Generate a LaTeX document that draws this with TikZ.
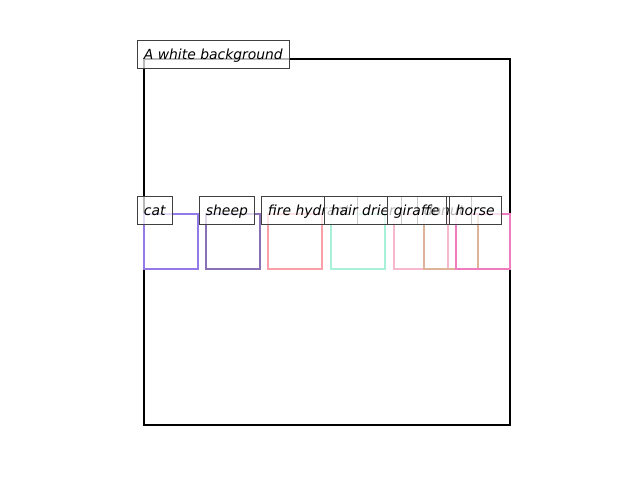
\documentclass[tikz,border=0pt]{standalone}
\usepackage{fontspec}
\setmainfont{DejaVu Sans}
\usepackage{xcolor}
\usetikzlibrary{positioning, calc}
\definecolor{catline}{HTML}{9479E8}
\definecolor{sheepline}{HTML}{8A70B4}
\definecolor{hydrantline}{HTML}{F9A0A8}
\definecolor{drierline}{HTML}{A8F0D8}
\definecolor{giraffeline}{HTML}{F5B8CE}
\definecolor{donutline}{HTML}{DDB49A}
\definecolor{horseline}{HTML}{F07CC0}

\begin{document}
\begin{tikzpicture}[x=1pt, y=-1pt,
    frame/.style={draw=black, line width=2pt, anchor=north west, inner sep=0pt,
      minimum width=366pt, minimum height=366pt},
    objbox/.style={line width=2pt, anchor=north west, inner sep=0pt,
      minimum width=54pt, minimum height=55pt},
    tag/.style={draw=black!75, line width=0.8pt, fill=white, fill opacity=0.72,
      text opacity=1, anchor=west, inner xsep=7pt, inner ysep=0pt,
      minimum height=28pt, text height=12pt, text depth=1.5pt,
      font=\fontsize{13.9}{16}\selectfont\itshape}]
\useasboundingbox (1,1) rectangle (641,481);

% --- scene frame ---
\node[frame] (bg) at (144,59) {};
\node[tag] (bgtag) at ($(bg.north west)+(-6.5,-4)$) {A white background};

% --- object boxes ---
\foreach \n/\x/\c in {cat/144/catline, sheep/206/sheepline, hydrant/268/hydrantline,
    drier/331/drierline, giraffe/394/giraffeline, donut/424/donutline, horse/456/horseline}{
  \node[objbox, draw=\c] (\n) at (\x,214) {};}

% --- labels ---
\foreach \n/\t in {cat/cat, sheep/sheep, hydrant/fire hydrant, drier/hair drier,
    donut/donut, giraffe/giraffe, horse/horse}{
  \node[tag] (\n tag) at ($(\n.north west)+(-6.5,-3)$) {\t};}
\end{tikzpicture}
\end{document}
